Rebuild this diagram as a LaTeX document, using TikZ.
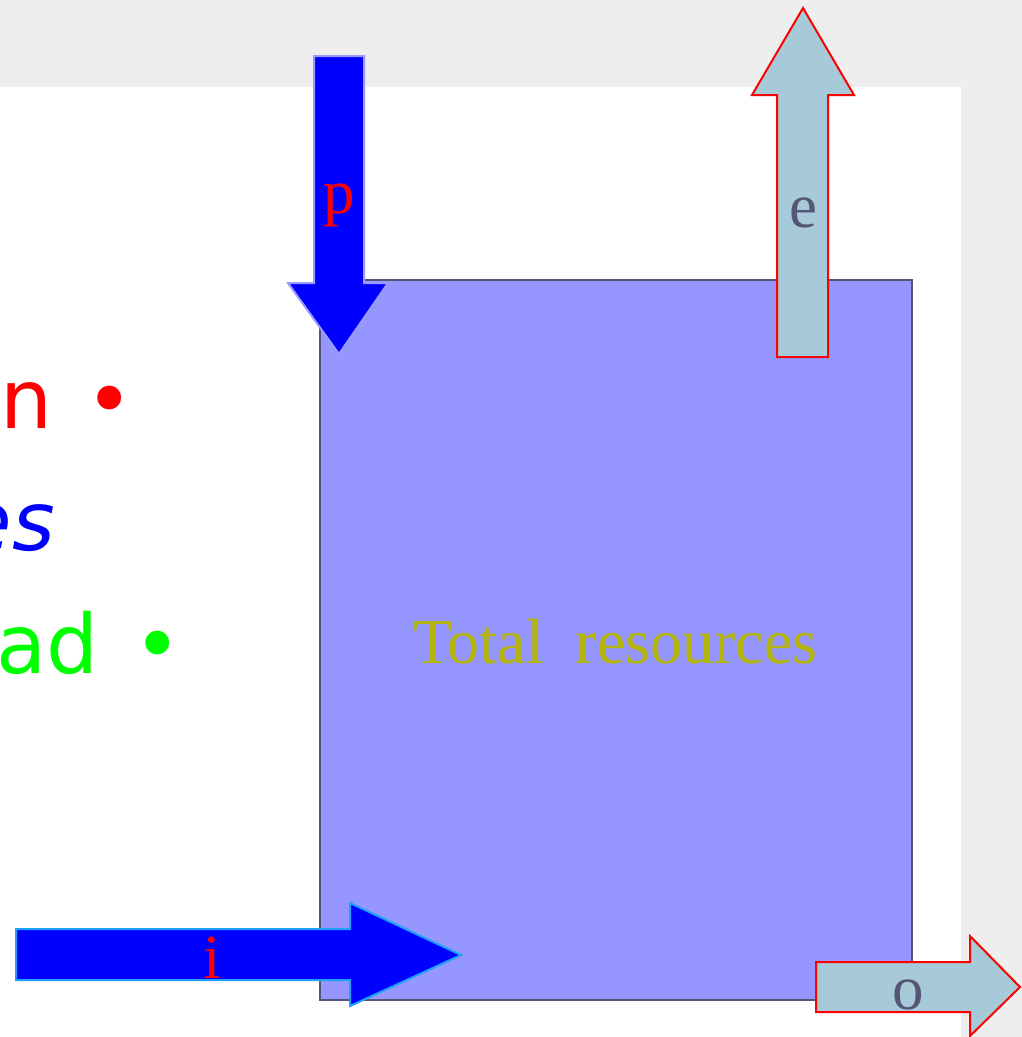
\documentclass[tikz,border=0pt]{standalone}
\usepackage{fontspec}
\setmainfont{Liberation Serif}
\newfontfamily\listfont{DejaVu Sans}
\usepackage{tikz}
\usetikzlibrary{backgrounds}
\definecolor{slidegrey}{RGB}{238,238,238}
\definecolor{boxfill}{RGB}{150,150,255}
\definecolor{boxline}{RGB}{85,85,122}
\definecolor{outfill}{RGB}{166,202,216}
\definecolor{inline}{RGB}{30,160,255}
\definecolor{slate}{RGB}{85,85,119}
\definecolor{olive}{RGB}{180,180,10}

\begin{document}
\begin{tikzpicture}[x=1pt, y=-1pt,
    inflow/.style={fill=blue, line width=2pt, line join=miter},
    outflow/.style={fill=outfill, draw=red, line width=2pt, line join=miter},
    tag/.style={font=\fontsize{63}{70}\selectfont, inner sep=0pt, anchor=base},
    item/.style={font=\listfont\fontsize{82}{90}\selectfont, inner sep=0pt, anchor=base east}]
    \useasboundingbox (0,0) rectangle (1022,1037);
    \clip (0,0) rectangle (1022,1037);
            \fill[slidegrey] (0,0) rectangle (1022,1037);
            \fill[white] (0,87) rectangle (961,1037);

            % list on the left, cut off by the page
            \node[item, text=red] at (134, 428) (itemon) {on\hspace{7pt} •};
            \node[item, text=blue] at (55, 550) (itemes) {\itshape es};
            \node[item, text=green] at (182, 673) (itemoad) {oad\hspace{9pt} •};

            % resources box
            \draw[fill=boxfill, draw=boxline, line width=2pt] (320,280) rectangle (912,1000);
            \node[tag, anchor=base west, text=olive, font=\fontsize{64}{70}\selectfont] at (413, 663) (total) {Total\ \ resources};

            % flows in
            \draw[inflow, draw=blue!40] (314,56) -- (364,56) -- (364,283) -- (388,283)
                -- (339,354) -- (288,283) -- (314,283) -- cycle;
            \draw[inflow, draw=inline] (16,929) -- (350,929) -- (350,903) -- (461,955)
                -- (350,1006) -- (350,980) -- (16,980) -- cycle;
            \node[tag, text=red] at (339, 213) (p) {p};
            \node[tag, text=red] at (212, 978) (i) {i};

            % flows out
            \draw[outflow] (777,357) -- (828,357) -- (828,95) -- (854,95)
                -- (803,8) -- (752,95) -- (777,95) -- cycle;
            \draw[outflow] (816,962) -- (970,962) -- (970,936) -- (1020,987)
                -- (970,1036) -- (970,1012) -- (816,1012) -- cycle;
            \node[tag, text=slate] at (803, 227) (e) {e};
            \node[tag, text=slate] at (908, 1009) (o) {o};
\end{tikzpicture}
\end{document}
